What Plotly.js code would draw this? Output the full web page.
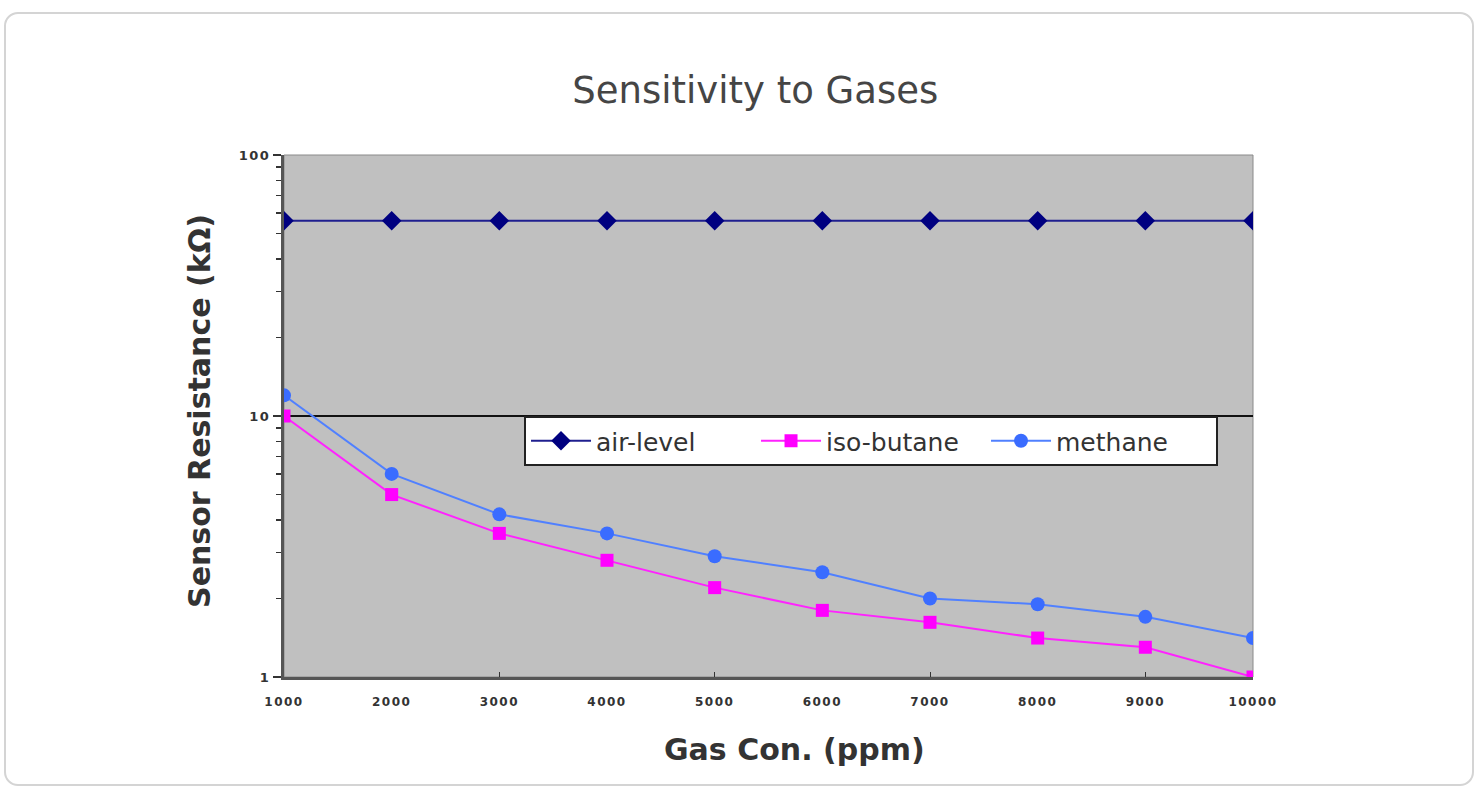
<!DOCTYPE html>
<html><head><meta charset="utf-8">
<script src="https://cdn.plot.ly/plotly-3.0.1.min.js"></script>
<style>
html,body{margin:0;padding:0;background:#fff;}
#frame{position:absolute;left:4px;top:12px;width:1466px;height:770px;border:2px solid #d4d4d4;border-radius:14px;pointer-events:none;z-index:5;}
#chart{position:absolute;left:0;top:0;width:1478px;height:787px;}
#chart .xtick text, #chart .ytick text{letter-spacing:1.5px;}
</style></head>
<body>
<div id="chart"></div><div id="frame"></div>
<script>
const gasConc = [1000,2000,3000,4000,5000,6000,7000,8000,9000,10000];
const airLevel = [56,56,56,56,56,56,56,56,56,56];
const isoButane = [10,5.0,3.55,2.8,2.2,1.8,1.62,1.41,1.3,1.0];
const methane = [12,6.0,4.2,3.55,2.9,2.52,2.0,1.9,1.7,1.41];
const seriesNames = ['air-level','iso-butane','methane'];
const xTickLabels = gasConc.map(String);
const yTickVals = [1,10,100];

const traces = [
  {x:gasConc, y:airLevel, name:seriesNames[0], mode:'lines+markers',
   line:{color:'#1f1f8f', width:2}, marker:{symbol:'diamond', size:15, color:'#000080'}},
  {x:gasConc, y:isoButane, name:seriesNames[1], mode:'lines+markers',
   line:{color:'#ff22ff', width:2}, marker:{symbol:'square', size:13, color:'#ff00ff'}},
  {x:gasConc, y:methane, name:seriesNames[2], mode:'lines+markers',
   line:{color:'#5080ff', width:2}, marker:{symbol:'circle', size:14, color:'#3a6cff'}},
  {x:gasConc, y:airLevel, xaxis:'x2', mode:'none', showlegend:false, hoverinfo:'skip'}
];

const titleFont = {size:30, color:'#333', family:'DejaVu Sans, sans-serif', weight:'bold'};
const layout = {
  width:1478, height:787,
  margin:{l:284, r:225, t:155, b:110},
  paper_bgcolor:'#ffffff', plot_bgcolor:'#c0c0c0',
  font:{family:'DejaVu Sans, sans-serif', color:'#333'},
  title:{text:'Sensitivity to Gases', x:0.511, xanchor:'center', y:0.885, yanchor:'middle',
         font:{family:'DejaVu Sans, sans-serif', size:37, color:'#454545'}},
  xaxis:{type:'linear', range:[1000,10000], tickvals:gasConc, ticktext:xTickLabels,
         ticks:'', showgrid:false, zeroline:false, showline:true, linecolor:'#555', linewidth:3,
         tickfont:{size:12, color:'#333', family:'DejaVu Sans, sans-serif', weight:'bold'},
         ticklabelstandoff:12},
  xaxis2:{overlaying:'x', matches:'x', side:'bottom', tickvals:[3000,5000,7000,9000], ticks:'inside',
          ticklen:5, tickcolor:'#333', showticklabels:false, showgrid:false, zeroline:false, showline:false},
  yaxis:{type:'log', range:[0,2], tickvals:yTickVals, ticktext:yTickVals.map(String),
         ticks:'outside', ticklen:8, tickcolor:'#333', tickwidth:1.5,
         minor:{ticks:'outside', ticklen:5, tickcolor:'#333', dtick:'D1', showgrid:false},
         showgrid:true, gridcolor:'#111', gridwidth:1.5, zeroline:false,
         showline:true, linecolor:'#555', linewidth:3,
         tickfont:{size:13, color:'#333', family:'DejaVu Sans, sans-serif', weight:'bold'}},
  annotations:[
    {text:'Gas Con. (ppm)', xref:'paper', yref:'paper', x:0.5273, y:-0.1398,
     xanchor:'center', yanchor:'middle', showarrow:false, font:titleFont},
    {text:'Sensor Resistance (kΩ)', xref:'paper', yref:'paper', x:-0.0867, y:0.5096,
     xanchor:'center', yanchor:'middle', textangle:-90, showarrow:false, font:titleFont}
  ],
  legend:{orientation:'h', x:0.2477, xanchor:'left', y:0.5, yanchor:'top',
          bgcolor:'#ffffff', bordercolor:'#222', borderwidth:2,
          font:{size:25, color:'#333', family:'DejaVu Sans, sans-serif'},
          entrywidth:155, itemwidth:60, tracegroupgap:0},
  shapes:[{type:'rect', xref:'paper', yref:'paper', x0:0, x1:1, y0:0, y1:1,
           line:{color:'#8a8a8a', width:1}, layer:'below'}],
  showlegend:true
};
Plotly.newPlot('chart', traces, layout, {displayModeBar:false, staticPlot:true});
</script>
</body></html>
